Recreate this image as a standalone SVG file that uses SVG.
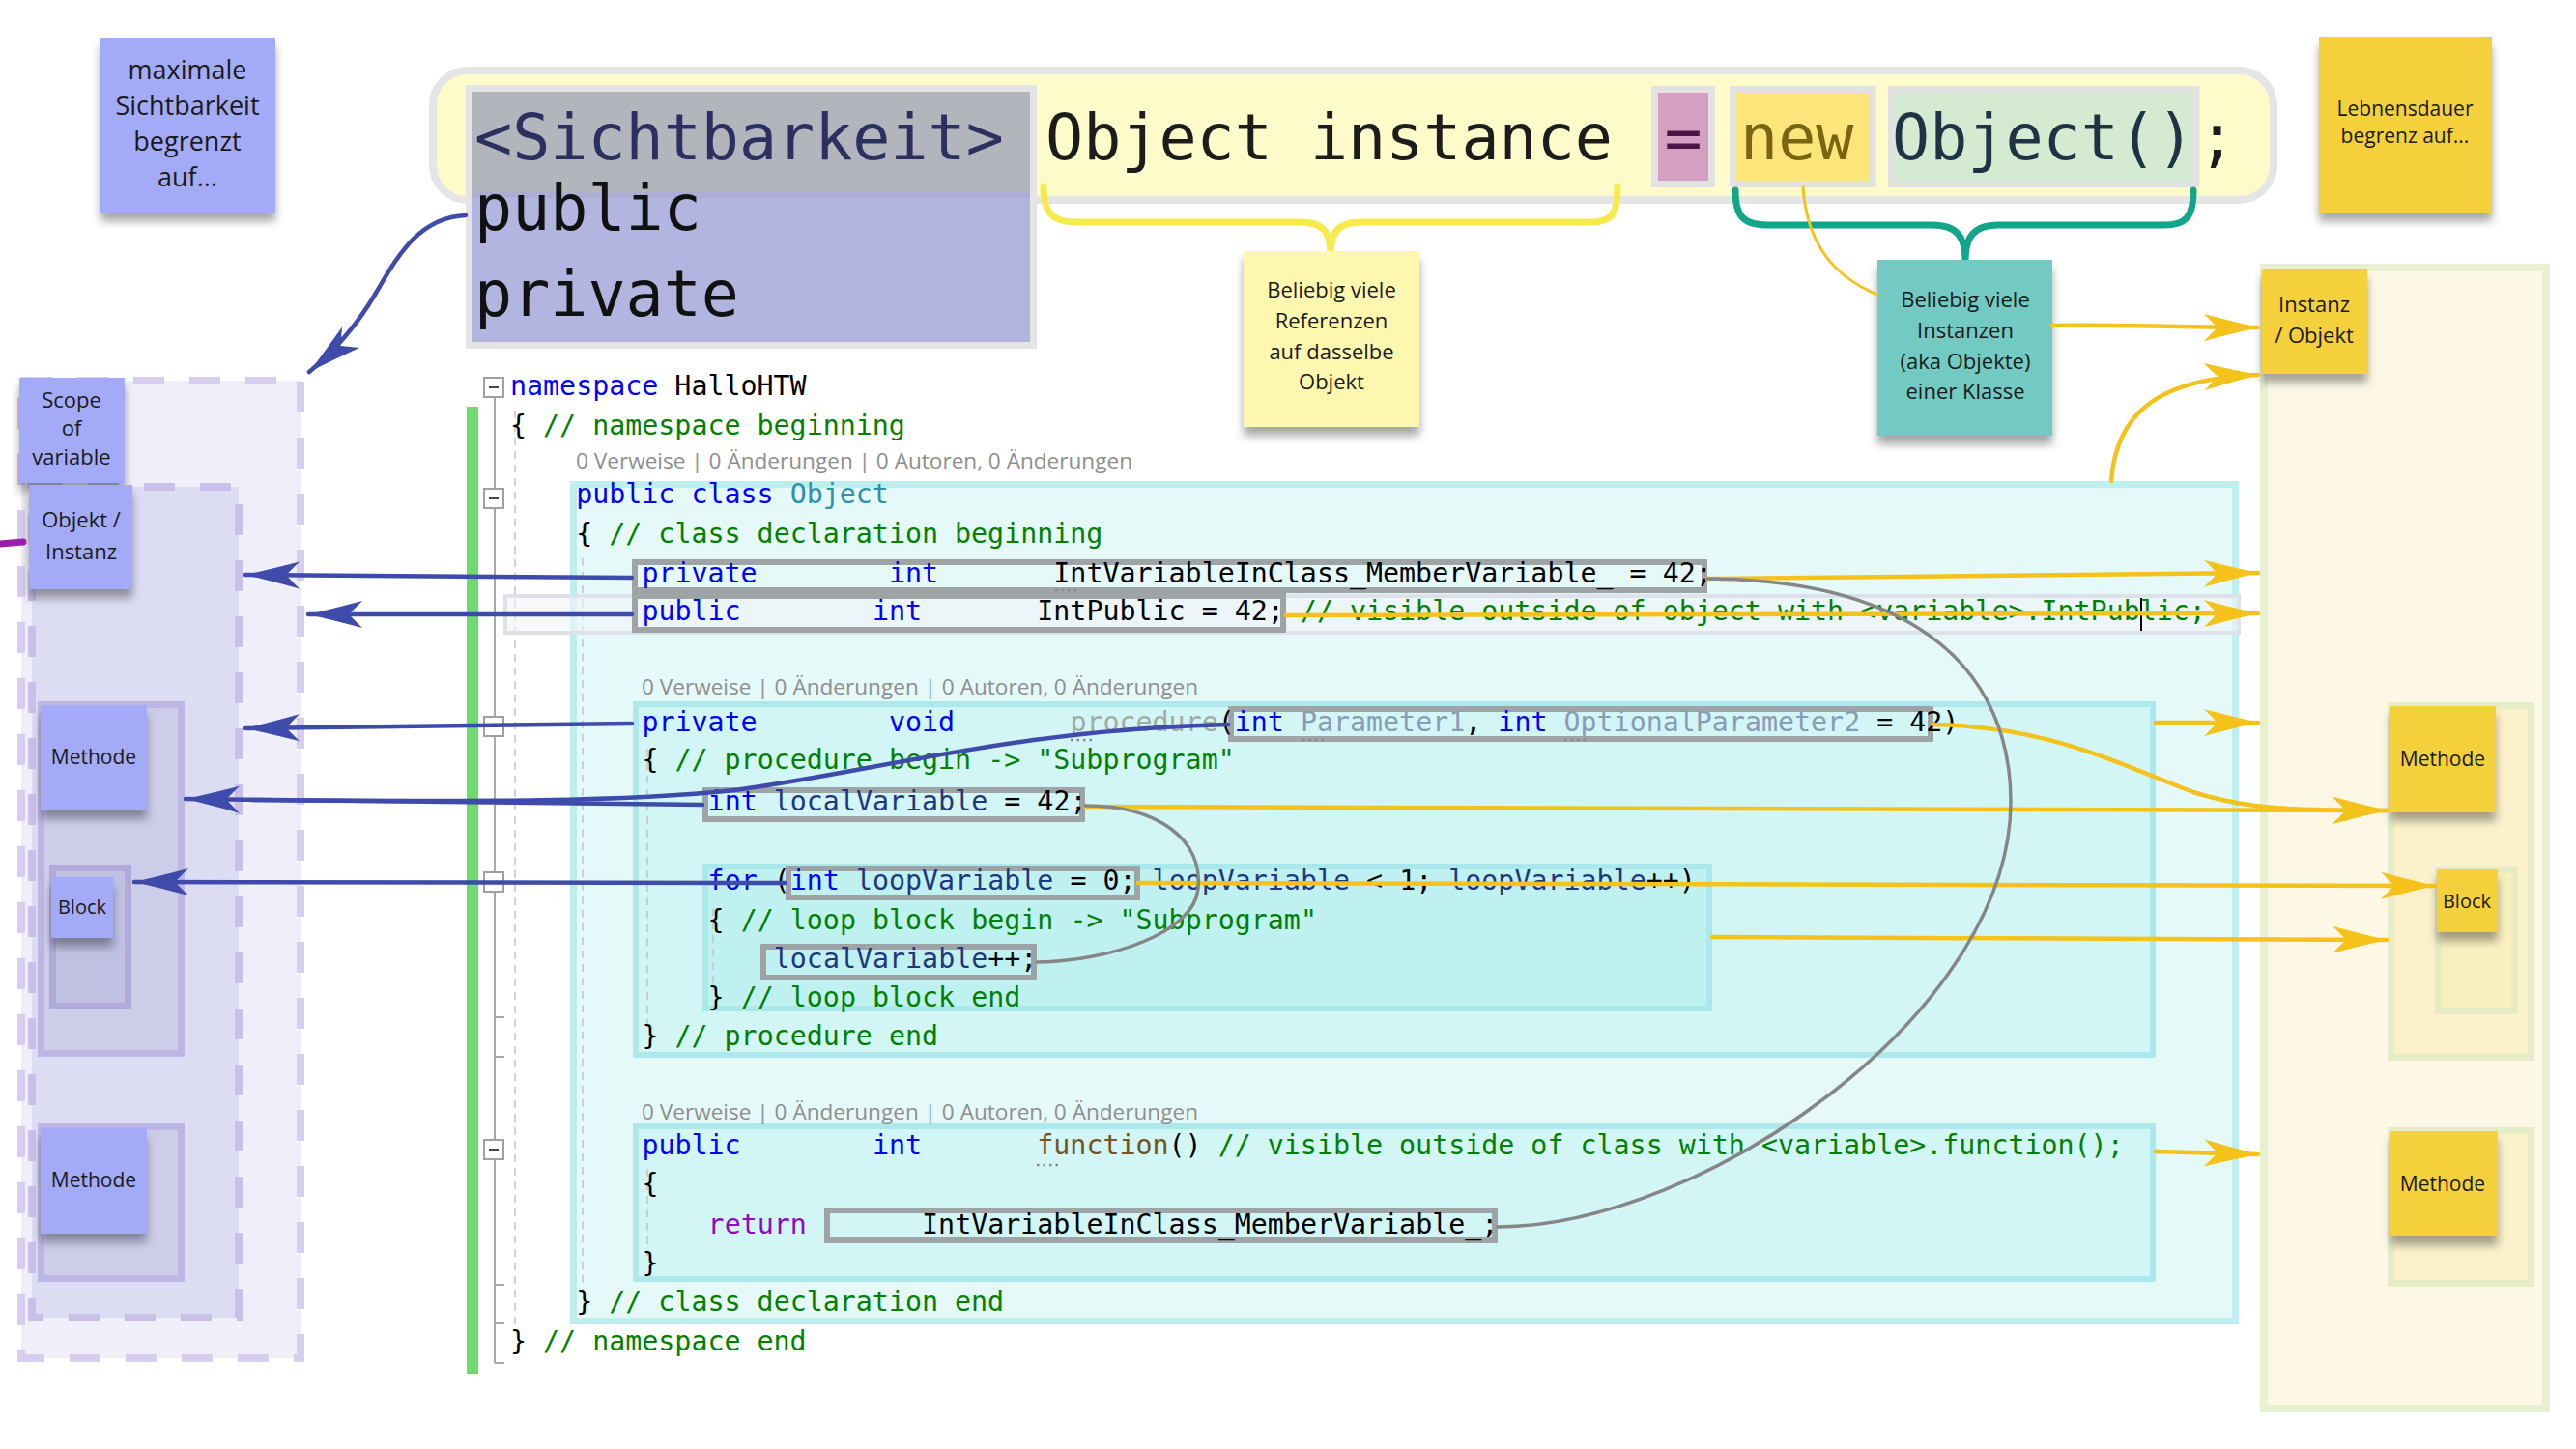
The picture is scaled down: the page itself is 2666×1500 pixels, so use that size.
<svg xmlns="http://www.w3.org/2000/svg" width="2666" height="1500" viewBox="0 0 2666 1500">
<defs>
<style>
.code{font-family:"DejaVu Sans Mono","Liberation Mono",monospace;font-size:28.3px;fill:#000}
.big{font-family:"DejaVu Sans Mono","Liberation Mono",monospace;font-size:65px}
.kw{fill:#0000ff}.cm{fill:#008000}.ty{fill:#2b91af}.lv{fill:#1f377f}.dim{fill:#a3a9a3}.par{fill:#8a9bb5}.fn{fill:#74531f}.rt{fill:#8f08c4}
.meta{font-family:"Open Sans","Liberation Sans",sans-serif;font-size:22px;fill:#8e8e8e}
.note{font-family:"Open Sans","Liberation Sans",sans-serif;font-size:22px;fill:#1a1a1a;text-anchor:middle}
.sp{fill:#a3aaf8;filter:url(#sh)}
.sy{fill:#f4d13a;filter:url(#sh)}
.bl{stroke:#3f4bab;stroke-width:4.5;fill:none;marker-end:url(#ab)}
.yl{stroke:#f4c21a;stroke-width:4.5;fill:none;marker-end:url(#ay)}
.gr{stroke:#868686;stroke-width:3.5;fill:none}
.hb{fill:none;stroke:#9ea3a6;stroke-width:6}
.guide{stroke:#c4c4c4;stroke-width:1.5;stroke-dasharray:8 6}
.fold{fill:#fff;stroke:#a0a0a0;stroke-width:2}
.dots{stroke:#8a8a8a;stroke-width:2.5;stroke-dasharray:2.5 4}
</style>
<filter id="sh" x="-15%" y="-15%" width="130%" height="140%">
<feDropShadow dx="0" dy="9" stdDeviation="5" flood-color="#000" flood-opacity="0.35"/>
</filter>
<marker id="ab" markerUnits="userSpaceOnUse" markerWidth="58" markerHeight="30" refX="56" refY="15" orient="auto" viewBox="0 0 58 30">
<path d="M0 1 Q30 9 56 15 Q30 21 0 29 L14 15 Z" fill="#3f4bab"/>
</marker>
<marker id="ay" markerUnits="userSpaceOnUse" markerWidth="58" markerHeight="30" refX="56" refY="15" orient="auto" viewBox="0 0 58 30">
<path d="M0 1 Q30 9 56 15 Q30 21 0 29 L14 15 Z" fill="#f4c21a"/>
</marker>
</defs>
<rect width="2666" height="1500" fill="#ffffff"/>

<!-- left scope containers -->
<g id="scope-container">
<rect x="22" y="394" width="289" height="1012" fill="#efeef9" stroke="#d7cdef" stroke-width="8" stroke-dasharray="32 26"/>
<rect x="33" y="504" width="214" height="860" fill="#dcdcf3" stroke="#c9bfe9" stroke-width="8" stroke-dasharray="32 26"/>
<rect x="42.5" y="729.5" width="145" height="361" fill="#cdcdea" stroke="#beb6e2" stroke-width="7"/>
<rect x="54.5" y="898.5" width="78" height="143" fill="#bfc0e2" stroke="#b1aadb" stroke-width="7"/>
<rect x="42.5" y="1166.5" width="145" height="157" fill="#cdcdea" stroke="#beb6e2" stroke-width="7"/>
</g>

<!-- right lifetime containers -->
<g id="lifetime-container">
<rect x="2343" y="277" width="292" height="1181" fill="#fdf8e6" stroke="#e7f0d0" stroke-width="8"/>
<rect x="2474.5" y="730.5" width="145" height="364" fill="#fbf2cb" stroke="#e5eec6" stroke-width="7"/>
<rect x="2523.5" y="900.5" width="79" height="146" fill="#f9efbf" stroke="#e6ecc2" stroke-width="7"/>
<rect x="2474.5" y="1170.5" width="145" height="158" fill="#fbf2cb" stroke="#e5eec6" stroke-width="7"/>
</g>

<!-- header statement -->
<g id="statement">
<rect x="448" y="73" width="1905" height="134" rx="36" fill="#fefbca" stroke="#e5e5e5" stroke-width="8"/>
<rect x="1712.5" y="92.5" width="59" height="98" fill="#d49fc0" stroke="#e2e2e2" stroke-width="7"/>
<rect x="1793.5" y="92.5" width="144.5" height="98" fill="#fde57b" stroke="#e2e2e2" stroke-width="7"/>
<rect x="1957.5" y="92.5" width="315.5" height="98" fill="#d4ead1" stroke="#e2e2e2" stroke-width="7"/>
<text class="big" x="1082" y="165" fill="#1c1c1c">Object instance</text>
<text class="big" x="1742" y="165" fill="#4b1547" text-anchor="middle">=</text>
<text class="big" x="1801" y="165" fill="#7a6512">new</text>
<text class="big" x="1958" y="165" fill="#1f3344">Object()</text>
<text class="big" x="2275" y="165" fill="#1c1c1c">;</text>
</g>

<g id="visibility">
<rect x="485.5" y="91.5" width="584" height="266" fill="#b2b5df" stroke="#e4e4e4" stroke-width="7"/>
<rect x="489" y="95" width="577" height="107" fill="#b3b5bd"/>
<rect x="489" y="199" width="577" height="6" fill="#abaed2"/>
<text class="big" x="491" y="165" fill="#2c3060">&lt;Sichtbarkeit&gt;</text>
<text class="big" x="491" y="238" fill="#111">public</text>
<text class="big" x="491" y="327" fill="#111">private</text>
</g>

<g id="braces" fill="none" stroke-linecap="round">
<path d="M1080 193 C1080 222 1090 230 1115 230 L1345 230 C1370 230 1377 240 1377 265 C1377 240 1384 230 1410 230 L1645 230 C1668 230 1674 222 1674 193" stroke="#f7ea4b" stroke-width="7"/>
<path d="M1796 197 C1796 225 1805 233 1830 233 L2000 233 C2025 233 2034 245 2034 270 C2034 245 2043 233 2068 233 L2240 233 C2262 233 2270 225 2270 197" stroke="#12a58a" stroke-width="7"/>
</g>

<!-- code editor -->
<g id="code">
<rect x="483" y="421" width="12" height="1001" fill="#6cdc6c"/>
<line x1="512" y1="411" x2="512" y2="1411" stroke="#a8a8a8" stroke-width="2"/>
<path d="M512 1053 h10 M512 1094 h10 M512 1330 h10 M512 1370 h10 M512 1411 h10" stroke="#a8a8a8" stroke-width="2"/>
<line class="guide" x1="533" y1="425" x2="533" y2="1378"/>
<rect x="593.5" y="501.5" width="1720" height="866" fill="#e5f9f9" stroke="#bdeff0" stroke-width="7"/>
<rect x="658" y="729" width="1570" height="363" fill="#d2f6f6" stroke="#ade9ec" stroke-width="6"/>
<rect x="730" y="897" width="1039" height="147" fill="#bff1f1" stroke="#a9e9ec" stroke-width="6"/>
<rect x="658" y="1166" width="1570" height="158" fill="#d2f6f6" stroke="#ade9ec" stroke-width="6"/>
<line class="guide" x1="603" y1="578" x2="603" y2="1335"/>
<line class="guide" x1="670" y1="775" x2="670" y2="1065"/>
<line class="guide" x1="670" y1="1210" x2="670" y2="1300"/>
<line class="guide" x1="738" y1="940" x2="738" y2="1025"/>
<rect x="523" y="617" width="1794" height="38" fill="#f0f4f6" fill-opacity="0.6" stroke="#dde2ea" stroke-width="4"/>
<rect class="fold" x="501" y="391" width="20" height="20"/>
<rect class="fold" x="501" y="506" width="20" height="20"/>
<rect class="fold" x="501" y="742" width="20" height="20"/>
<rect class="fold" x="501" y="903" width="20" height="20"/>
<rect class="fold" x="501" y="1180" width="20" height="20"/>
<path d="M506 401 h10 M506 516 h10 M506 752 h10 M506 913 h10 M506 1190 h10" stroke="#444" stroke-width="2"/>

<rect class="hb" x="657" y="582" width="1107" height="29"/>
<rect class="hb" x="657" y="617" width="671" height="35"/>
<rect class="hb" x="1274" y="734" width="724" height="31"/>
<rect class="hb" x="730" y="818" width="390" height="30"/>
<rect class="hb" x="816" y="899" width="361" height="30"/>
<rect class="hb" x="790" y="980" width="280" height="32"/>
<rect class="hb" x="856" y="1253" width="691" height="31"/>

<text class="code" x="528" y="409" xml:space="preserve"><tspan class="kw">namespace</tspan> HalloHTW</text>
<text class="code" x="528" y="450" xml:space="preserve">{ <tspan class="cm">// namespace beginning</tspan></text>
<text class="meta" x="596" y="485" textLength="576" lengthAdjust="spacingAndGlyphs">0 Verweise | 0 Änderungen | 0 Autoren, 0 Änderungen</text>
<text class="code" x="596.2" y="521" xml:space="preserve"><tspan class="kw">public class</tspan> <tspan class="ty">Object</tspan></text>
<text class="code" x="596.2" y="562" xml:space="preserve">{ <tspan class="cm">// class declaration beginning</tspan></text>
<text class="code" x="664.4" y="603" xml:space="preserve"><tspan class="kw">private</tspan>        <tspan class="kw">int</tspan>       IntVariableInClass_MemberVariable_ = 42;</text>
<text class="code" x="664.4" y="642" xml:space="preserve"><tspan class="kw">public</tspan>        <tspan class="kw">int</tspan>       IntPublic = 42; <tspan class="cm">// visible outside of object with &lt;variable&gt;.IntPublic;</tspan></text>
<text class="meta" x="664" y="719" textLength="576" lengthAdjust="spacingAndGlyphs">0 Verweise | 0 Änderungen | 0 Autoren, 0 Änderungen</text>
<text class="code" x="664.4" y="757" xml:space="preserve"><tspan class="kw">private</tspan>        <tspan class="kw">void</tspan>       <tspan class="dim">procedure</tspan>(<tspan class="kw">int</tspan> <tspan class="par">Parameter1</tspan>, <tspan class="kw">int</tspan> <tspan class="par">OptionalParameter2</tspan> = 42)</text>
<text class="code" x="664.4" y="796" xml:space="preserve">{ <tspan class="cm">// procedure begin -&gt; "Subprogram"</tspan></text>
<text class="code" x="732.6" y="839" xml:space="preserve"><tspan class="kw">int</tspan> <tspan class="lv">localVariable</tspan> = 42;</text>
<text class="code" x="732.6" y="921" xml:space="preserve"><tspan class="kw">for</tspan> (<tspan class="kw">int</tspan> <tspan class="lv">loopVariable</tspan> = 0; <tspan class="lv">loopVariable</tspan> &lt; 1; <tspan class="lv">loopVariable</tspan>++)</text>
<text class="code" x="732.6" y="962" xml:space="preserve">{ <tspan class="cm">// loop block begin -&gt; "Subprogram"</tspan></text>
<text class="code" x="800.8" y="1002" xml:space="preserve"><tspan class="lv">localVariable</tspan>++;</text>
<text class="code" x="732.6" y="1042" xml:space="preserve">} <tspan class="cm">// loop block end</tspan></text>
<text class="code" x="664.4" y="1082" xml:space="preserve">} <tspan class="cm">// procedure end</tspan></text>
<text class="meta" x="664" y="1159" textLength="576" lengthAdjust="spacingAndGlyphs">0 Verweise | 0 Änderungen | 0 Autoren, 0 Änderungen</text>
<text class="code" x="664.4" y="1195" xml:space="preserve"><tspan class="kw">public</tspan>        <tspan class="kw">int</tspan>       <tspan class="fn">function</tspan>() <tspan class="cm">// visible outside of class with &lt;variable&gt;.function();</tspan></text>
<text class="code" x="664.4" y="1235" xml:space="preserve">{</text>
<text class="code" x="732.6" y="1277" xml:space="preserve"><tspan class="rt">return</tspan>       IntVariableInClass_MemberVariable_;</text>
<text class="code" x="664.4" y="1317" xml:space="preserve">}</text>
<text class="code" x="596.2" y="1357" xml:space="preserve">} <tspan class="cm">// class declaration end</tspan></text>
<text class="code" x="528" y="1398" xml:space="preserve">} <tspan class="cm">// namespace end</tspan></text>
<path class="dots" d="M1092 611 h22 M1108 766 h22 M1348 766 h22 M1619 766 h22 M1073 1206 h22"/>
<line x1="2216" y1="619" x2="2216" y2="653" stroke="#000" stroke-width="2"/>
</g>

<!-- sticky notes -->
<g id="note-max-visibility">
<rect class="sp" x="104" y="39" width="181" height="181"/>
<text class="note" font-size="27" style="font-size:27px" x="194" y="82">maximale</text>
<text class="note" style="font-size:27px" x="194" y="119">Sichtbarkeit</text>
<text class="note" style="font-size:27px" x="194" y="156">begrenzt</text>
<text class="note" style="font-size:27px" x="194" y="193">auf...</text>
</g>
<g id="note-references">
<rect x="1287" y="260" width="182" height="182" fill="#fdf7b0" filter="url(#sh)"/>
<text class="note" x="1378" y="308">Beliebig viele</text>
<text class="note" x="1378" y="340">Referenzen</text>
<text class="note" x="1378" y="372">auf dasselbe</text>
<text class="note" x="1378" y="403">Objekt</text>
</g>
<g id="note-instances">
<rect x="1943" y="269" width="181" height="182" fill="#72cac3" filter="url(#sh)"/>
<text class="note" x="2034" y="318">Beliebig viele</text>
<text class="note" x="2034" y="350">Instanzen</text>
<text class="note" x="2034" y="382">(aka Objekte)</text>
<text class="note" x="2034" y="413">einer Klasse</text>
</g>
<g id="note-lifetime">
<rect class="sy" x="2400" y="38" width="179" height="182"/>
<text class="note" style="font-size:21px" x="2489" y="120">Lebnensdauer</text>
<text class="note" style="font-size:21px" x="2489" y="148">begrenz auf...</text>
</g>
<g id="note-scope">
<rect class="sp" x="20" y="391" width="109" height="109"/>
<text class="note" x="74" y="422">Scope</text>
<text class="note" x="74" y="451">of</text>
<text class="note" x="74" y="481">variable</text>
</g>
<g id="note-object-left">
<rect class="sp" x="30" y="502" width="107" height="108"/>
<text class="note" x="84" y="546">Objekt /</text>
<text class="note" x="84" y="579">Instanz</text>
</g>
<g id="note-method-left-1">
<rect class="sp" x="42" y="730" width="110" height="109"/>
<text class="note" style="font-size:21px" x="97" y="791">Methode</text>
</g>
<g id="note-block-left">
<rect class="sp" x="53" y="908" width="64" height="63"/>
<text class="note" style="font-size:20px" x="85" y="946">Block</text>
</g>
<g id="note-method-left-2">
<rect class="sp" x="42" y="1168" width="110" height="109"/>
<text class="note" style="font-size:21px" x="97" y="1229">Methode</text>
</g>
<g id="note-instance-right">
<rect class="sy" x="2341" y="278" width="109" height="109"/>
<text class="note" x="2395" y="323">Instanz</text>
<text class="note" x="2395" y="355">/ Objekt</text>
</g>
<g id="note-method-right-1">
<rect class="sy" x="2474" y="731" width="109" height="110"/>
<text class="note" style="font-size:21px" x="2528" y="793">Methode</text>
</g>
<g id="note-block-right">
<rect class="sy" x="2522" y="900" width="63" height="65"/>
<text class="note" style="font-size:20px" x="2553" y="940">Block</text>
</g>
<g id="note-method-right-2">
<rect class="sy" x="2474" y="1171" width="111" height="109"/>
<text class="note" style="font-size:21px" x="2528" y="1233">Methode</text>
</g>

<!-- connectors -->
<g id="connectors" stroke-linecap="round">
<path d="M0 563 L24 561" stroke="#9b1fae" stroke-width="7" fill="none"/>
<path class="bl" d="M482 223 C432 225 410 268 388 305 C372 332 350 360 320 385"/>
<path class="bl" d="M654 598 L254 595"/>
<path class="bl" d="M654 636 L319 636"/>
<path class="bl" d="M654 749 L254 754"/>
<path d="M1271 750 C1050 755 900 800 760 818 C650 830 500 830 260 828" stroke="#3f4bab" stroke-width="4.5" fill="none"/>
<path class="bl" d="M727 833 L192 827"/>
<path class="bl" d="M813 914 L139 913"/>

<path d="M1866 194 C1870 250 1895 285 1943 305" stroke="#f4c21a" stroke-width="3" fill="none"/>
<path class="yl" d="M2124 337 C2200 336 2260 339 2337 339"/>
<path class="yl" d="M2185 498 C2190 430 2230 392 2337 388"/>
<path class="yl" d="M1767 599 L2337 593"/>
<path class="yl" d="M1331 637 L2337 635"/>
<path class="yl" d="M2231 748 L2337 748"/>
<path class="yl" d="M2001 750 C2120 752 2190 790 2270 820 C2320 836 2360 839 2470 839"/>
<path class="yl" d="M1123 835 L2470 839"/>
<path class="yl" d="M1178 914 L2520 917"/>
<path class="yl" d="M1772 970 L2470 973"/>
<path class="yl" d="M2231 1192 L2337 1195"/>

<path class="gr" d="M1767 599 C1990 600 2081 700 2081 830 C2081 1050 1760 1270 1550 1270"/>
<path class="gr" d="M1123 834 C1200 834 1245 870 1240 920 C1236 965 1150 995 1073 996"/>
</g>
</svg>
